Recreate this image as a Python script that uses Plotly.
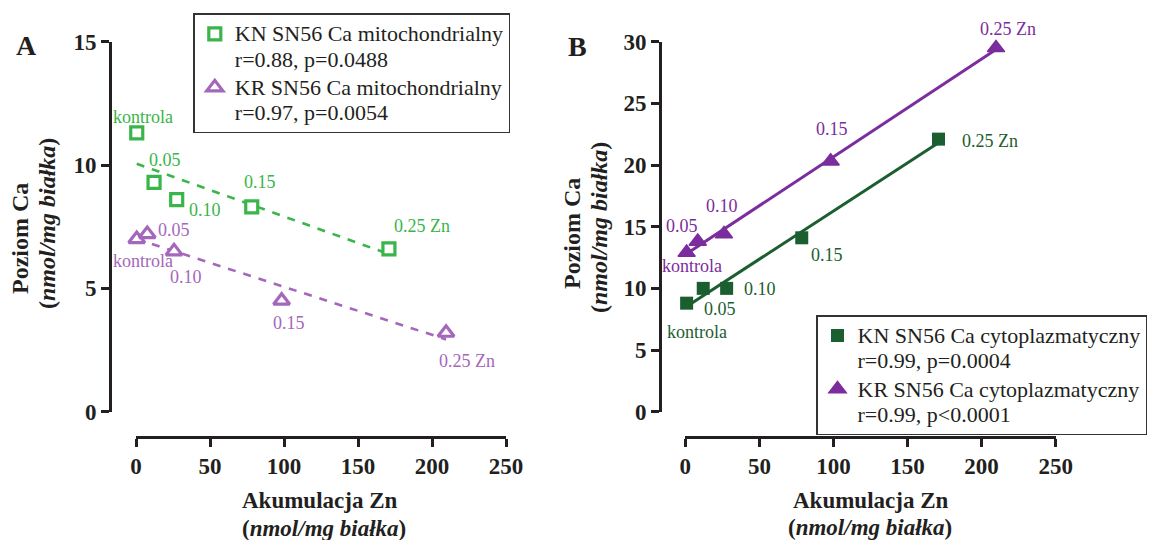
import numpy as np
import plotly.graph_objects as go

# ---------------- data ----------------
point_labels = ["kontrola", "0.05", "0.10", "0.15", "0.25 Zn"]

# Panel A - mitochondrial Ca
zn_kn_mito = [0.5, 12.2, 27.5, 78.2, 170.9]
ca_kn_mito = [11.3, 9.3, 8.6, 8.3, 6.6]
zn_kr_mito = [0.5, 7.6, 25.7, 98.4, 209.5]
ca_kr_mito = [7.0, 7.2, 6.5, 4.5, 3.2]

# Panel B - cytoplasmic Ca
zn_kn_cyto = [0.9, 12.1, 27.9, 78.6, 170.9]
ca_kn_cyto = [8.8, 10.0, 10.0, 14.1, 22.1]
zn_kr_cyto = [0.9, 8.4, 26.1, 98.1, 209.7]
ca_kr_cyto = [12.9, 13.8, 14.4, 20.3, 29.5]

x_ticks = [0, 50, 100, 150, 200, 250]
y_ticks_a = [0, 5, 10, 15]
y_ticks_b = [0, 5, 10, 15, 20, 25, 30]

legend_lines = {
    "kn_mito": ["KN SN56 Ca mitochondrialny", "r=0.88, p=0.0488"],
    "kr_mito": ["KR SN56 Ca mitochondrialny", "r=0.97, p=0.0054"],
    "kn_cyto": ["KN SN56 Ca cytoplazmatyczny", "r=0.99, p=0.0004"],
    "kr_cyto": ["KR SN56 Ca cytoplazmatyczny", "r=0.99, p<0.0001"],
}

# ---------------- style ----------------
FONT = "Times New Roman, Liberation Serif, Tinos, serif"
INK = "#231f20"
GREEN_A = "#39b54a"
PURPLE_A = "#a567bb"
GREEN_B = "#1b5e2f"
PURPLE_B = "#7b2d9d"


def legend_name(key):
    return "<br>".join('<span style="font-size:22px">%s</span>' % s
                       for s in legend_lines[key])


# label offsets in px (dx, dy up) relative to each point
off_kn_mito = [(6, 16), (11, 22), (28, -10), (8, 25), (33, 23)]
off_kr_mito = [(6, -22), (27, 4), (12, -26), (7, -22), (21, -28)]
off_kn_cyto = [(10, -29), (17, -21), (33, -1), (25, -17), (51, -2)]
off_kr_cyto = [(5, -13), (-16, 16), (-2, 28), (1, 32), (12, 19)]

W, H = 1151, 540


def px(x):
    return x / W


def py(y):
    return 1 - y / H


fig = go.Figure()


def add_series(x, y, xa, ya, color, symbol, size, fill, lw, dash, name, legend):
    slope, icpt = np.polyfit(x, y, 1)
    xs = np.array([min(x), max(x)])
    fig.add_trace(go.Scatter(
        x=xs, y=slope * xs + icpt, mode="lines", xaxis=xa, yaxis=ya,
        line=dict(color=color, width=2.6 if dash else 3, dash=dash),
        showlegend=False, hoverinfo="skip", cliponaxis=False))
    fig.add_trace(go.Scatter(
        x=x, y=y, mode="markers", xaxis=xa, yaxis=ya, name=name, legend=legend,
        marker=dict(symbol=symbol, size=size, color=fill,
                    line=dict(color=color, width=lw)),
        cliponaxis=False))


add_series(zn_kn_mito, ca_kn_mito, "x", "y", GREEN_A, "square", 12, "white", 3.2,
           "8px,8px", legend_name("kn_mito"), "legend")
add_series(zn_kr_mito, ca_kr_mito, "x", "y", PURPLE_A, "triangle-up", 14, "white", 3.2,
           "8px,8px", legend_name("kr_mito"), "legend")
add_series(zn_kn_cyto, ca_kn_cyto, "x2", "y2", GREEN_B, "square", 13, GREEN_B, 0,
           None, legend_name("kn_cyto"), "legend2")
add_series(zn_kr_cyto, ca_kr_cyto, "x2", "y2", PURPLE_B, "triangle-up", 15, PURPLE_B, 1.5,
           None, legend_name("kr_cyto"), "legend2")

annotations = []


def add_labels(x, y, offs, xr, yr, color):
    for xi, yi, lab, (dx, dy) in zip(x, y, point_labels, offs):
        annotations.append(dict(
            x=xi, y=yi, xref=xr, yref=yr, text=lab, showarrow=False,
            xshift=dx, yshift=dy, xanchor="center", yanchor="middle",
            font=dict(family=FONT, size=18, color=color)))


add_labels(zn_kn_mito, ca_kn_mito, off_kn_mito, "x", "y", GREEN_A)
add_labels(zn_kr_mito, ca_kr_mito, off_kr_mito, "x", "y", PURPLE_A)
add_labels(zn_kn_cyto, ca_kn_cyto, off_kn_cyto, "x2", "y2", GREEN_B)
add_labels(zn_kr_cyto, ca_kr_cyto, off_kr_cyto, "x2", "y2", PURPLE_B)


def paper_text(text, x, y, size, angle=0):
    annotations.append(dict(
        x=px(x), y=py(y), xref="paper", yref="paper", text=text, showarrow=False,
        xanchor="center", yanchor="middle", textangle=angle,
        font=dict(family=FONT, size=size, color=INK)))


# panel letters
paper_text("<b>A</b>", 26, 45, 28)
paper_text("<b>B</b>", 578, 47, 28)
# y titles
paper_text("<b>Poziom Ca</b>", 20, 239, 24, -90)
paper_text("<b>(<i>nmol/mg białka</i>)</b>", 47, 224, 24, -90)
paper_text("<b>Poziom Ca</b>", 572, 234, 24, -90)
paper_text("<b>(<i>nmol/mg białka</i>)</b>", 599, 228, 24, -90)
# x titles
paper_text("<b>Akumulacja Zn</b>", 319, 500, 23)
paper_text("<b>(<i>nmol/mg białka</i>)</b>", 324, 528, 23)
paper_text("<b>Akumulacja Zn</b>", 870, 500, 23)
paper_text("<b>(<i>nmol/mg białka</i>)</b>", 870, 527, 23)

tickfont = dict(family=FONT, size=23, color=INK, weight="bold")
axis_common = dict(showline=True, linewidth=3, linecolor=INK, ticks="outside",
                   ticklen=8, tickwidth=3, tickcolor=INK, tickfont=tickfont,
                   showgrid=False, zeroline=False, anchor="free", fixedrange=True)

y_dom = [py(411.7), py(41.7)]
x_pos = py(436.7)

legend_common = dict(xanchor="left", yanchor="top", bgcolor="white",
                     bordercolor="#333", borderwidth=1.5, valign="top",
                     font=dict(family=FONT, size=19.4, color=INK))

fig.update_layout(
    width=W, height=H, autosize=False,
    margin=dict(l=0, r=0, t=0, b=0, autoexpand=False),
    paper_bgcolor="white", plot_bgcolor="white",
    font=dict(family=FONT),
    xaxis=dict(domain=[px(136), px(506)], range=[0, 250], position=x_pos,
               tickvals=x_ticks, **axis_common),
    yaxis=dict(domain=y_dom, range=[0, 15], position=px(110),
               tickvals=y_ticks_a, **axis_common),
    xaxis2=dict(domain=[px(685.3), px(1055.7)], range=[0, 250], position=x_pos,
                tickvals=x_ticks, **axis_common),
    yaxis2=dict(domain=y_dom, range=[0, 30], position=px(660),
                tickvals=y_ticks_b, **axis_common),
    legend=dict(x=px(193.3), y=py(13.3), **legend_common),
    legend2=dict(x=px(816), y=py(315), **legend_common),
    annotations=annotations,
    showlegend=True,
)

fig.write_html("out.html",
               config={"displayModeBar": False},
               post_script="document.body.style.margin='0';"
                           "document.body.style.overflow='hidden';")
